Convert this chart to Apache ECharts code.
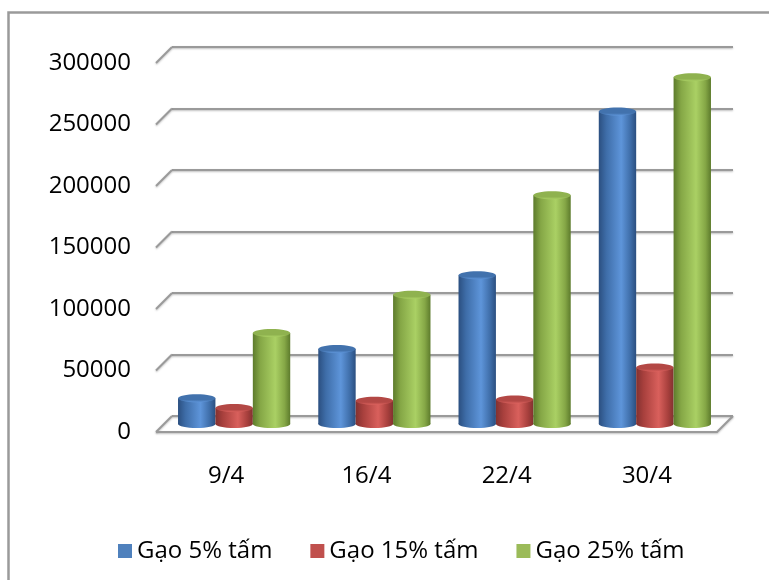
<!DOCTYPE html>
<html><head><meta charset="utf-8">
<script src="https://cdn.jsdelivr.net/npm/echarts@6/dist/echarts.min.js"></script>
<style>html,body{margin:0;padding:0;background:#fff}#c{width:769px;height:580px}</style>
</head><body><div id="c"></div>
<script>
const categories = ['9/4', '16/4', '22/4', '30/4'];
const seriesNames = ['Gạo 5% tấm', 'Gạo 15% tấm', 'Gạo 25% tấm'];
const gao5 = [21000, 61000, 121000, 254000];
const gao15 = [13000, 19000, 20000, 46000];
const gao25 = [74000, 105000, 186000, 282000];
const yTicks = [0, 50000, 100000, 150000, 200000, 250000, 300000];
const yMin = 0, yMax = 300000, yStep = 50000;

const seriesValues = [gao5, gao15, gao25];
const palettes = [
  {base: '#4F81BD', dark: '#2b4f80', mid: '#3e6da8', light: '#5e95da', topc: '#4272ad'},
  {base: '#C0504D', dark: '#823130', mid: '#a8403d', light: '#d9605c', topc: '#b34845'},
  {base: '#9BBB59', dark: '#5d7b2c', mid: '#85a746', light: '#aad064', topc: '#8fb24f'}
];
const DX = -16, DY = 16;
const FONT = 'Open Sans';

const chart = echarts.init(document.getElementById('c'), null, {renderer: 'canvas'});

function cylRender(si) {
  const p = palettes[si];
  return function (params, api) {
    const ci = api.value(0), v = api.value(1);
    const top = api.coord([ci, v]);
    const base = api.coord([ci, 0]);
    const band = api.size([1, 0])[0];
    const w = band * 0.8 / 3;
    const cx = top[0] + (si - 1) * w;
    const rx = w / 2, ry = 4;
    const bodyGrad = new echarts.graphic.LinearGradient(0, 0, 1, 0, [
      {offset: 0, color: p.dark}, {offset: 0.2, color: p.mid},
      {offset: 0.6, color: p.light}, {offset: 0.85, color: p.mid}, {offset: 1, color: p.dark}
    ]);
    const topGrad = new echarts.graphic.LinearGradient(0, 0, 0, 1, [
      {offset: 0, color: p.topc}, {offset: 0.7, color: p.topc}, {offset: 1, color: p.light}
    ]);
    return {
      type: 'group',
      children: [
        {type: 'ellipse', shape: {cx: cx, cy: base[1], rx: rx, ry: ry}, style: {fill: bodyGrad}},
        {type: 'rect', shape: {x: cx - rx, y: top[1], width: w, height: base[1] - top[1]}, style: {fill: bodyGrad}},
        {type: 'ellipse', shape: {cx: cx, cy: top[1], rx: rx, ry: ry}, style: {fill: topGrad}}
      ]
    };
  };
}

const lineStyleGrid = {color: '#9a9a9a', width: 2, shadowColor: 'rgba(0,0,0,0.25)', shadowBlur: 2, shadowOffsetY: 1};

function wallRender(params, api) {
  const v = api.value(1);
  const pt = api.coord([0, v]);
  const cs = params.coordSys;
  const x0 = cs.x, x1 = cs.x + cs.width, y = pt[1];
  const st = {stroke: '#9a9a9a', lineWidth: 2, shadowColor: 'rgba(0,0,0,0.25)', shadowBlur: 2, shadowOffsetY: 1};
  const children = [
    {type: 'line', shape: {x1: x0 + DX, y1: y + DY, x2: x0, y2: y}, style: st}
  ];
  if (v === yMin) {
    children.push({type: 'polyline', shape: {points: [[x0 + DX, y + DY], [x1 + DX, y + DY], [x1, y]]}, style: Object.assign({fill: null}, st)});
  }
  return {type: 'group', children: children};
}

const series = [
  {
    type: 'custom', name: 'wall', xAxisIndex: 0, yAxisIndex: 0, silent: true, z: 1,
    renderItem: wallRender, data: yTicks.map(v => [0, v]), encode: {x: 0, y: 1}
  }
];
seriesNames.forEach((n, si) => {
  series.push({
    type: 'custom', name: n, xAxisIndex: 2, yAxisIndex: 2, z: 5,
    itemStyle: {color: palettes[si].base},
    renderItem: cylRender(si),
    data: seriesValues[si].map((v, i) => [i, v]),
    encode: {x: 0, y: 1}
  });
});

const valueAxisBase = {type: 'value', min: yMin, max: yMax, interval: yStep};

chart.setOption({
  animation: false,
  backgroundColor: '#fff',
  textStyle: {fontFamily: FONT},
  graphic: [{
    type: 'rect', shape: {x: 8.5, y: 12.5, width: 800, height: 620},
    style: {fill: null, stroke: '#9a9a9a', lineWidth: 2.5}, silent: true, z: 0
  }],
  grid: [
    {left: 172, right: 36, top: 47, bottom: 164},
    {left: 156, right: 52, top: 63, bottom: 148},
    {left: 164, right: 44, top: 55, bottom: 156}
  ],
  xAxis: [
    {gridIndex: 0, type: 'category', data: categories, show: false},
    {gridIndex: 1, type: 'category', data: categories,
     axisLine: {show: false}, axisTick: {show: false},
     axisLabel: {fontSize: 24, color: '#000', margin: 32, fontFamily: FONT}},
    {gridIndex: 2, type: 'category', data: categories, show: false}
  ],
  yAxis: [
    Object.assign({gridIndex: 0, axisLabel: {show: false}, axisLine: {show: false}, axisTick: {show: false},
      splitLine: {show: true, lineStyle: lineStyleGrid}}, valueAxisBase),
    Object.assign({gridIndex: 1, axisLine: {show: false}, axisTick: {show: false}, splitLine: {show: false},
      axisLabel: {fontSize: 24, color: '#000', margin: 25, fontFamily: FONT, padding: [5, 0, 0, 0],
        formatter: v => String(v)}}, valueAxisBase),
    Object.assign({gridIndex: 2, show: false, splitLine: {show: false}}, valueAxisBase)
  ],
  legend: {
    data: seriesNames, left: 113, top: 534, itemGap: 38, itemWidth: 14, itemHeight: 14, icon: 'rect',
    textStyle: {fontSize: 24, color: '#000', fontFamily: FONT}
  },
  series: series
});
</script></body></html>
